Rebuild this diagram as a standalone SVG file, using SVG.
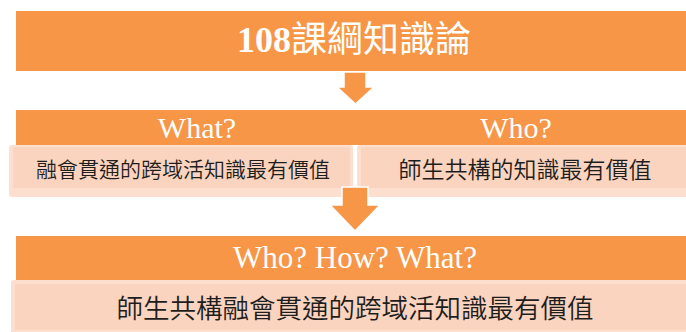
<svg xmlns="http://www.w3.org/2000/svg" width="686" height="332" viewBox="0 0 686 332">
  <style>
    .bar { fill: #F79646; }
    .pinkOuter { fill: #FDDFCF; }
    .pinkInner { fill: #FBD4BF; }
    .hdr { font-family: "Liberation Serif", "Noto Sans CJK TC", serif; fill: #FFFFFF; text-anchor: middle; }
    .body { font-family: "Noto Sans CJK TC", "Noto Sans CJK SC", sans-serif; font-weight: 350; fill: #1E1E1E; text-anchor: middle; }
    .arrow { fill: #F79646; stroke: #FFFFFF; stroke-width: 1.5; }
  </style>
  <rect width="686" height="332" fill="#FFFFFF"/>

  <g id="title">
    <rect class="bar" x="16" y="11" width="680" height="60"/>
    <text class="hdr" x="354" y="52" font-size="36"><tspan font-weight="bold">108</tspan><tspan font-family="Noto Sans CJK TC, sans-serif" font-weight="400">課綱知識論</tspan></text>
  </g>

  <g id="what">
    <rect class="bar" x="16" y="110" width="340" height="35"/>
    <text class="hdr" x="197" y="138" font-size="30">What?</text>
    <rect class="pinkOuter" x="9" y="145" width="344" height="52" rx="3"/>
    <rect class="pinkInner" x="13" y="147" width="337" height="41"/>
    <text class="body" x="183" y="177" font-size="21">融會貫通的跨域活知識最有價值</text>
  </g>

  <g id="who">
    <rect class="bar" x="355" y="110" width="341" height="35"/>
    <text class="hdr" x="516" y="138" font-size="30">Who?</text>
    <rect class="pinkOuter" x="357" y="145" width="344" height="52" rx="3"/>
    <rect class="pinkInner" x="361" y="147" width="340" height="41"/>
    <text class="body" x="525" y="178" font-size="23">師生共構的知識最有價值</text>
  </g>

  <g id="result">
    <rect class="bar" x="16" y="236" width="680" height="44"/>
    <text class="hdr" x="355" y="268" font-size="31">Who? How? What?</text>
    <rect class="pinkOuter" x="11" y="280" width="690" height="56" rx="3"/>
    <rect class="pinkInner" x="15" y="284" width="686" height="46"/>
    <text class="body" x="355" y="318" font-size="26.5">師生共構融會貫通的跨域活知識最有價值</text>
  </g>

  <g id="connectors">
    <polygon class="arrow" points="344,72 366,72 366,87 374,87 355.5,104 337,87 344,87"/>
    <polygon class="arrow" points="342,187 368,187 368,205 380,205 355,231 330,205 342,205"/>
  </g>
</svg>
